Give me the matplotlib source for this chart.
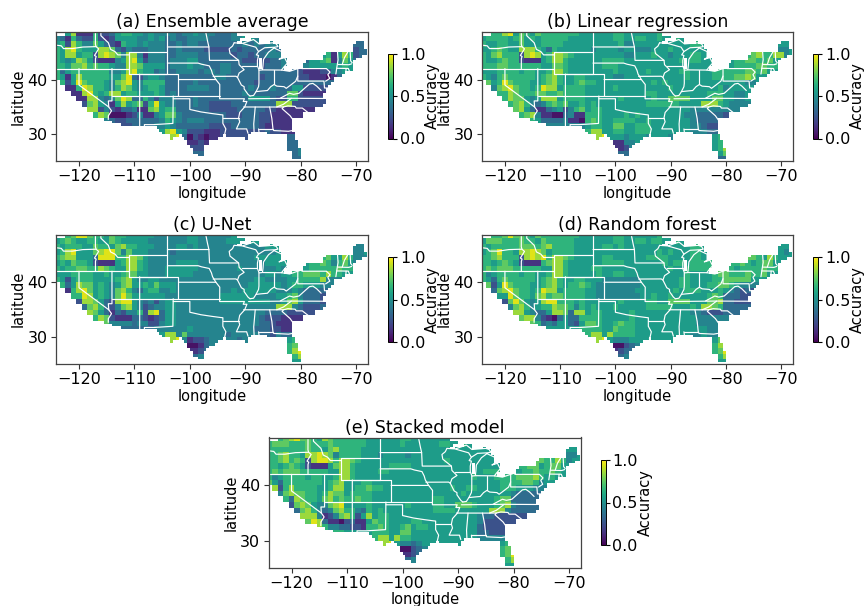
import numpy as np
import matplotlib
matplotlib.use("Agg")
import matplotlib.pyplot as plt
from matplotlib.path import Path

FIG_W, FIG_H = 865, 606

# accuracy per 1 degree cell, digit d means about d/10 + 0.05, '.' is no data
# rows go from lat 49 down to 25, columns from lon -124.5 to -67.5 (blocks of ten)
ensemble = [
    "..58111622 3566554544 4434454443 3344 .......... .......",
    "4316322621 2555544545 3433444433 3344554... .......... .......",
    "5628644753 2165545444 3343443333 3333434344 4......... ....333",
    "6589655588 7324333444 3343333222 2232333334 33........ ....233",
    "6588566289 8748841444 3344443333 3323323344 44....3456 1586233",
    "6545875211 1458952444 3444553333 3333222223 34...35567 1475333",
    "6657786766 5448875555 3444544333 4433333233 34...45555 5565433",
    "6356666666 4458965534 3344443443 4433333333 3333211122 4455...",
    "6515866666 5579324554 3333333334 4333333233 3333221110 13.....",
    ".625976665 4789546666 3333343333 3333332333 3333333333 3......",
    "..11698665 4687545665 3333444433 3333343334 3335522222 .......",
    "...1189656 8856655565 3433333333 3333433333 3377211112 .......",
    "....118843 4798336424 4433343333 3333355553 2266222222 .......",
    ".....27854 1585672695 4433343322 2233333333 8882222223 .......",
    "......8824 2133411785 6633333322 2223333322 1111111... .......",
    ".......687 0001241145 7743333333 3222333221 11111..... .......",
    ".........4 3223333334 6543444333 3333333221 111....... .......",
    ".......... ..22333344 5433333322 2233333211 111....... .......",
    ".......... .......445 8954222111 2222222232 2111...... .......",
    ".......... .......... .893021011 22222..... ..3333.... .......",
    ".......... .......... ...31121.. .......... ..3344.... .......",
    ".......... .......... ....222... .......... ..33444... .......",
    ".......... .......... ....233... .......... ...3433... .......",
    ".......... .......... .......... .......... ...3333... .......",
]
linear = [
    "..66895765 7666666655 5555665555 5566...... .......... .......",
    "5666656756 5666665555 5555665566 5565565... .......... .......",
    "6556655755 5666655555 5555564455 5555555566 5......... ....555",
    "5567655888 6536555555 4555545544 4555655555 56........ ....445",
    "6578666289 8568876555 5555554455 5655455566 55....5667 8668845",
    "6556766211 1568865555 5566665555 5555556566 55...56677 6675555",
    "6667766666 6557765555 5566655555 5555555555 55...56666 7766555",
    "5556666566 5568865555 5555655555 6555556655 5566666677 6755...",
    "6546766666 5678655665 5555445555 5555555655 5566667787 55.....",
    ".756976665 5678655676 6555555555 5656555555 5555555544 5......",
    "..47897665 6988566665 5555655555 5555655555 5556455555 .......",
    "...6687666 7766766665 5555555555 6655555555 5666554456 .......",
    "....687754 5888566665 5555565555 5655777755 5577554455 .......",
    ".....67864 3467675565 6555555555 6666665555 8886544444 .......",
    "......7853 1134524675 6655555555 5555555544 4444444... .......",
    ".......678 4110034116 6655556565 5555555443 33332..... .......",
    ".........6 5333341106 7655666655 6555555543 333....... .......",
    ".......... ..44444445 6655775566 6555555544 322....... .......",
    ".......... .......556 8855665566 6555555544 433....... .......",
    ".......... .......... .895554555 45554..... ..5666.... .......",
    ".......... .......... ...211445. .......... ..5677.... .......",
    ".......... .......... ....1124.. .......... ..56888... .......",
    ".......... .......... ....2334.. .......... ...5784... .......",
    ".......... .......... .......... .......... ...3343... .......",
]
unet = [
    "..67997665 7665555544 4444554444 4455...... .......... .......",
    "5676556655 7655555444 4444554444 4555555... .......... .......",
    "6566655766 5786655544 4455454444 4444444455 5......... ....444",
    "5689555789 9747555444 4344444444 4444444444 55........ ....445",
    "6788555399 9668875444 4444444444 4444445555 55....4667 5586444",
    "5657665211 1568865444 4455554444 4444444455 55...56676 4675444",
    "6566776687 6558865444 5555554444 4445444444 54...56666 6766544",
    "5556666556 5567755444 5555544444 4444444455 4556677768 6655...",
    "6525666555 5678544554 4444444444 4444445544 4455666684 44.....",
    ".635877565 4578556575 5544444444 4444455555 5456655544 4......",
    "..16897565 4786435664 4544444444 4454555555 4445433333 .......",
    "...6698565 4797555555 4444444444 5555554444 5567433322 .......",
    "....288753 2899543424 5544444444 5555555554 4578533322 .......",
    ".....37863 2478542344 5544444444 4444444444 8884322233 .......",
    "......8753 1324462893 5544444444 4444444433 3322222... .......",
    ".......687 2111332123 5544444444 4444444322 21111..... .......",
    ".........7 4444344224 5544444444 4444444332 111....... .......",
    ".......... ..33333344 4444544444 4444443332 211....... .......",
    ".......... .......445 8847444444 4344444332 433....... .......",
    ".......... .......... .894122344 44434..... ..5677.... .......",
    ".......... .......... ...100134. .......... ..6788.... .......",
    ".......... .......... ....1123.. .......... ..68999... .......",
    ".......... .......... ....2344.. .......... ...6885... .......",
    ".......... .......... .......... .......... ...5565... .......",
]
forest = [
    "..66797765 7666666655 5555665555 5566...... .......... .......",
    "5777666766 5766666555 5555665566 5665565... .......... .......",
    "6566666777 6786666555 5566565555 5555555566 5......... ....555",
    "5679665889 8756666555 5555555555 5565655566 55........ ....545",
    "6678666289 8968876555 5566555555 6666555566 55....5677 6586555",
    "6656765211 1678865555 5566665555 5556566566 66...66765 6775555",
    "6767776666 6558865555 6655555555 5555655666 66...65666 6766655",
    "6456666566 5568865555 5655665555 5555555655 5567766676 6755...",
    "6536766666 5678655665 5544444445 5555556655 5566777775 55.....",
    ".725976665 5678656676 5444444445 5555556655 5667765444 4......",
    "..37897665 6988566665 5444444455 5555565666 5556543232 .......",
    "...5597665 7867766665 5444444445 5655655555 5676333222 .......",
    "....279754 5899666565 5555565555 6655777755 5778332223 .......",
    ".....47864 5668776465 6555655555 6666655565 8876333333 .......",
    "......8854 3358873885 6655555655 5555555544 3222333... .......",
    ".......788 4210353366 6655555655 5555555554 44444..... .......",
    ".........7 6343553257 7655676655 5555555554 444....... .......",
    ".......... ..55555566 6655766655 5555555555 544....... .......",
    ".......... .......566 8858666655 5555555544 544....... .......",
    ".......... .......... .895444555 55555..... ..5777.... .......",
    ".......... .......... ...3002345 .......... ..6889.... .......",
    ".......... .......... ....1233.. .......... ..67999... .......",
    ".......... .......... ....2344.. .......... ...6886... .......",
    ".......... .......... .......... .......... ...5565... .......",
]
stacked = [
    "..67897765 8766666655 5555665555 5555...... .......... .......",
    "6777666766 6766666655 5555655555 5665565... .......... .......",
    "6666666766 5786666555 5555555555 5555555555 5......... ....555",
    "6678665889 8746666555 4555545555 5555555555 55........ ....445",
    "6678676289 9868876555 5555555555 5565555555 55....5677 6686455",
    "6656765211 1578865555 5566665555 5555555555 55...66775 6775555",
    "6767776666 6558865555 6655555555 5555555556 66...56676 6765555",
    "6456666566 5568865555 5555555555 5555555655 5666677786 5655...",
    "7536666666 5678555665 5555555555 5555555555 5566667764 55.....",
    ".826866665 5688556676 6555555555 5556556655 5566655544 4......",
    "..47877665 6877566665 5555555555 5555565555 5555433333 .......",
    "...6387665 7867667665 5555555555 6655555555 5677333333 .......",
    "....278754 4789555565 5555565555 6655777655 5678433333 .......",
    ".....37864 3478664365 6555555555 6666555555 8884333333 .......",
    "......8884 1247862585 6655555555 5555555543 3222222... .......",
    ".......798 3110231157 6655556655 5555555542 22222..... .......",
    ".........8 6443322166 7655675665 5555555532 222....... .......",
    ".......... ..66555556 6655775555 5555555533 222....... .......",
    ".......... .......666 8858665555 5555555544 444....... .......",
    ".......... .......... .895443455 55555..... ..5677.... .......",
    ".......... .......... ...3002345 .......... ..6788.... .......",
    ".......... .......... ....1123.. .......... ..67999... .......",
    ".......... .......... ....2344.. .......... ...6896... .......",
    ".......... .......... .......... .......... ...5565... .......",
]

titles = ["(a) Ensemble average", "(b) Linear regression", "(c) U-Net",
          "(d) Random forest", "(e) Stacked model"]
panels = [ensemble, linear, unet, forest, stacked]

# axes and colorbar boxes in pixels: left, right, top, bottom
ax_boxes = [(56, 368, 32, 161), (482, 793, 32, 161), (56, 368, 234.5, 364),
            (482, 793, 234.5, 364), (268.5, 581, 437.5, 567.5)]
cb_boxes = [(388, 393, 53.5, 138.5), (813, 818, 53.5, 138.5), (388, 393, 257, 342),
            (813, 818, 257, 342), (600.5, 605.5, 460, 545)]

xticks = [-120, -110, -100, -90, -80, -70]
yticks = [30, 40]
cbar_ticks = [0.0, 0.5, 1.0]

# land outline (lon, lat) used to cut the grid
outline = [
    (-124.8, 48.0), (-122.7, 48.0), (-122.7, 49.5), (-95.1, 49.5), (-94.6, 48.7), (-93, 48.6), (-91.5, 48.2),
    (-89.6, 48.0), (-92, 46.8), (-90.5, 46.7), (-88.5, 47.4), (-87.6, 47.3), (-87.5, 46.6), (-85, 46.8),
    (-84.3, 46.4), (-84, 45.9), (-83.3, 45.2), (-83.3, 44), (-82.5, 43.8), (-82.3, 43), (-83.1, 42.1),
    (-83.2, 41.8), (-82, 41.6), (-80.5, 42.1), (-79.8, 42.5), (-79, 43.3), (-77, 43.4), (-76.2, 43.7),
    (-75.8, 44.4), (-74.8, 45.1), (-71.5, 45.1), (-71, 45.4), (-70.4, 46.3), (-70, 46.8), (-68.4, 47.4),
    (-68.7, 45.6), (-67.7, 45.0), (-69.5, 44.1), (-70.6, 43.2), (-70.8, 42.4), (-70.3, 41.7), (-71.5, 41.3),
    (-73.5, 41.0), (-72, 40.9), (-74, 40.5), (-74.2, 39.6), (-75.1, 38.7), (-75.9, 37.2), (-75.6, 35.4),
    (-77, 34.6), (-79, 33.5), (-80.9, 32.1), (-81.4, 30.8), (-80.6, 28.3), (-80.1, 26.9), (-80.3, 25.2),
    (-81.3, 25.6), (-82.2, 27), (-82.8, 28.3), (-83.7, 29.9), (-85.2, 29.8), (-86.5, 30.4), (-88.8, 30.4),
    (-89.2, 29.2), (-91, 29.3), (-93.7, 29.8), (-94.8, 29.3), (-96.5, 28.3), (-97.4, 27.3), (-97.4, 25.9),
    (-99.1, 26.4), (-100.4, 28.2), (-101.4, 29.8), (-102.7, 29.7), (-103.3, 29), (-104.6, 29.8), (-106.5, 31.7),
    (-108.2, 31.7), (-108.2, 31.3), (-111.1, 31.3), (-114.8, 32.5), (-117.1, 32.5), (-117.6, 33.4), (-118.5, 34),
    (-120.6, 34.5), (-121.9, 36.6), (-122.6, 37.8), (-123.8, 39.3), (-124.4, 40.4), (-124.3, 43), (-124.1, 46),
]
lake_michigan = [(-87.6, 44.0), (-87.0, 44.0), (-87.0, 41.9), (-87.6, 41.9)]

# state lines and shores, each one (lon, lat) polyline
borders = [
    [(-124, 46.25), (-123.2, 46.15), (-122.8, 45.65), (-121.2, 45.65), (-119.3, 45.93), (-116.92, 46)],
    [(-117.03, 49), (-117.04, 46.42), (-116.92, 46), (-116.46, 45.6), (-117.2, 44.4), (-116.9, 44.2), (-117.03, 43.8), (-117.03, 42)],
    [(-124.2, 42), (-111.05, 42)],
    [(-116.05, 49), (-116.05, 48), (-114.7, 46.7), (-114.3, 45.5), (-113.5, 45.1), (-113, 44.5), (-111.05, 44.5)],
    [(-114.05, 42), (-114.05, 36.1), (-114.7, 36.1), (-114.63, 35), (-114.13, 34.3), (-114.7, 33.4), (-114.72, 32.72)],
    [(-120, 42), (-120, 39), (-114.63, 35)],
    [(-111.05, 45), (-104.05, 45), (-104.05, 41), (-111.05, 41), (-111.05, 45)],
    [(-104.05, 49), (-104.05, 45)],
    [(-109.05, 41), (-109.05, 31.33), (-108.2, 31.33), (-108.2, 31.78), (-106.53, 31.78), (-103.06, 32), (-103, 37)],
    [(-114.05, 37), (-94.62, 37)],
    [(-109.05, 41), (-102.05, 41), (-102.05, 37)],
    [(-103, 36.5), (-100, 36.5), (-100, 34.55), (-98, 34.1), (-96, 33.8), (-94.5, 33.6), (-94.04, 33.55), (-94.04, 32), (-93.5, 31), (-93.7, 30.1), (-93.85, 29.7)],
    [(-102.05, 40), (-95.3, 40), (-94.6, 39.1), (-94.62, 36.5), (-90.15, 36.5), (-90.37, 36), (-89.7, 36), (-90.1, 35), (-91, 34), (-91.2, 33), (-91, 32.3), (-91.6, 31), (-89.75, 31), (-89.5, 30.2)],
    [(-104.05, 43), (-98.5, 43), (-97.9, 42.8), (-96.5, 42.5), (-96.1, 41.7), (-95.9, 41), (-95.3, 40)],
    [(-104.05, 45.94), (-96.56, 45.94), (-96.45, 43.5), (-91.2, 43.5), (-91.1, 42.7), (-90.2, 41.8), (-91.1, 41.2), (-91.4, 40.4), (-90.7, 39), (-90.2, 38.7), (-90.2, 38.3), (-89.5, 37.3), (-89.15, 37)],
    [(-97.2, 49), (-96.8, 47), (-96.56, 45.94)],
    [(-95.8, 40.58), (-91.7, 40.6), (-91.4, 40.4)],
    [(-92, 46.7), (-92.3, 46.1), (-92.9, 45.6), (-92.75, 44.75), (-91.2, 43.5)],
    [(-90.64, 42.5), (-87.8, 42.5)],
    [(-90.4, 46.55), (-88.1, 45.9), (-87.6, 45.1)],
    [(-87.53, 41.7), (-87.53, 39.3), (-87.6, 38.7), (-88.05, 37.8)],
    [(-84.8, 41.7), (-84.8, 39.1)],
    [(-86.8, 41.76), (-83.45, 41.73), (-82, 41.5), (-80.52, 42), (-79.76, 42.27)],
    [(-89.15, 37), (-88.5, 37.1), (-88.05, 37.8), (-87.1, 37.9), (-86, 38), (-85.4, 38.7), (-84.8, 39.1), (-84.3, 38.8), (-83, 38.7), (-82.6, 38.4), (-81.8, 39), (-80.9, 39.7), (-80.52, 40.64)],
    [(-80.52, 42), (-80.52, 39.72), (-75.8, 39.72), (-75.7, 38.46), (-75.05, 38.45)],
    [(-79.76, 42.27), (-79.76, 42), (-75.35, 42), (-74.7, 41.36), (-75.1, 40.9), (-74.75, 40.2), (-75.5, 39.7)],
    [(-73.35, 45), (-73.25, 43.6), (-73.5, 42.05), (-73.65, 41)],
    [(-73.27, 42.75), (-71.3, 42.7), (-70.8, 42.87)],
    [(-73.5, 42.05), (-71.4, 42.02), (-71.2, 41.5)],
    [(-71.8, 42.02), (-71.85, 41.3)],
    [(-71.5, 45), (-72.1, 44), (-72.5, 42.73)],
    [(-71.08, 45.3), (-70.98, 43.4), (-70.7, 43.07)],
    [(-83.68, 36.6), (-82, 37.5), (-81.3, 37.3), (-80.3, 37.5), (-79.3, 38.4), (-78.4, 39.2), (-77.8, 39.3), (-77.1, 38.8), (-76.3, 38)],
    [(-89.4, 36.5), (-81.68, 36.58), (-75.9, 36.55)],
    [(-90.3, 35), (-84.32, 34.99), (-83.1, 35), (-82.3, 35.2), (-81, 35.1), (-80.8, 34.8), (-79.7, 34.8), (-78.5, 33.85)],
    [(-94.04, 33), (-91.2, 33)],
    [(-88.2, 35), (-88.47, 31.9), (-88.4, 30.3)],
    [(-85.6, 35), (-85.2, 32.9), (-85, 31), (-84.86, 30.7), (-82.2, 30.57), (-81.5, 30.7)],
    [(-87.6, 31), (-85, 31)],
    [(-87.6, 31), (-87.5, 30.3)],
    [(-83.1, 35), (-83.35, 34.7), (-81.9, 33.4), (-81, 32.1)],
    [(-84.32, 34.99), (-83.1, 35.5), (-81.68, 36.58)],
    [(-92, 46.7), (-90.5, 46.6), (-88.5, 47.3), (-87.5, 46.5), (-85, 46.7), (-84.4, 46.5), (-84.1, 46), (-84.7, 45.9), (-86.5, 45.8), (-87.6, 45.1), (-88, 44.5), (-87.6, 44.4), (-87.8, 43.5), (-87.8, 42.5), (-87.5, 41.7), (-86.9, 41.76), (-86.8, 42.5), (-86.7, 43.7), (-85.8, 45), (-84.8, 45.75), (-83.4, 45.1), (-83.4, 44), (-83.9, 43.7), (-82.9, 44), (-82.4, 43), (-83.1, 42.2), (-83.45, 41.73)],
]


def parse_grid(rows):
    grid = np.full((24, 57), np.nan)
    for r, row in enumerate(rows):
        # pad every block so one short block can not shift the rest
        row = "".join(b.ljust(10, ".") for b in row.split(" "))
        for c, ch in enumerate(row[:57]):
            if ch != ".":
                grid[r, c] = int(ch) / 10 + 0.05
    return grid


def px_box(l, r, t, b):
    return [l / FIG_W, 1 - b / FIG_H, (r - l) / FIG_W, (b - t) / FIG_H]


# half degree cells, same as the source grid spacing
lon_edges = np.arange(-124.5, -67.4, 0.5)
lat_edges = np.arange(49, 24.9, -0.5)
lon_mid = (lon_edges[:-1] + lon_edges[1:]) / 2
lat_mid = (lat_edges[:-1] + lat_edges[1:]) / 2
mx, my = np.meshgrid(lon_mid, lat_mid)
pts = np.column_stack([mx.ravel(), my.ravel()])
land = Path(outline).contains_points(pts) & ~Path(lake_michigan).contains_points(pts)
land = land.reshape(mx.shape)

fig = plt.figure(figsize=(FIG_W / 100, FIG_H / 100), dpi=100)
for rows, title, ab, cb in zip(panels, titles, ax_boxes, cb_boxes):
    ax = fig.add_axes(px_box(*ab))
    grid = np.kron(parse_grid(rows), np.ones((2, 2)))
    grid = np.ma.masked_where(~land | np.isnan(grid), grid)
    mesh = ax.pcolormesh(lon_edges, lat_edges, grid, cmap="viridis", vmin=0, vmax=1, linewidth=0)
    for line in borders:
        xs, ys = zip(*line)
        ax.plot(xs, ys, color="white", lw=0.85, solid_capstyle="round")
    ax.set_xlim(-124.15, -67.85)
    ax.set_ylim(25.15, 48.67)
    ax.set_xticks(xticks)
    ax.set_yticks(yticks)
    ax.tick_params(labelsize=11.5, length=3.5, width=0.8, pad=2.5, color="#333333")
    ax.set_xlabel("longitude", fontsize=10.5)
    ax.set_ylabel("latitude", fontsize=10.5)
    ax.xaxis.set_label_coords(0.5, -0.19)
    ax.yaxis.set_label_coords(-0.097, 0.5)
    ax.set_title(title, fontsize=12.5, pad=3.5)
    for s in ax.spines.values():
        s.set_color("#444444")
        s.set_linewidth(0.9)

    cax = fig.add_axes(px_box(*cb))
    cbar = fig.colorbar(mesh, cax=cax)
    cbar.set_ticks(cbar_ticks)
    cbar.ax.tick_params(labelsize=11.5, length=3, width=0.8, pad=2)
    cbar.set_label("Accuracy", fontsize=10.5)
    cbar.ax.yaxis.set_label_coords(7.4, 0.5)
    cbar.outline.set_linewidth(0.7)

fig.savefig("out.png", dpi=100)
